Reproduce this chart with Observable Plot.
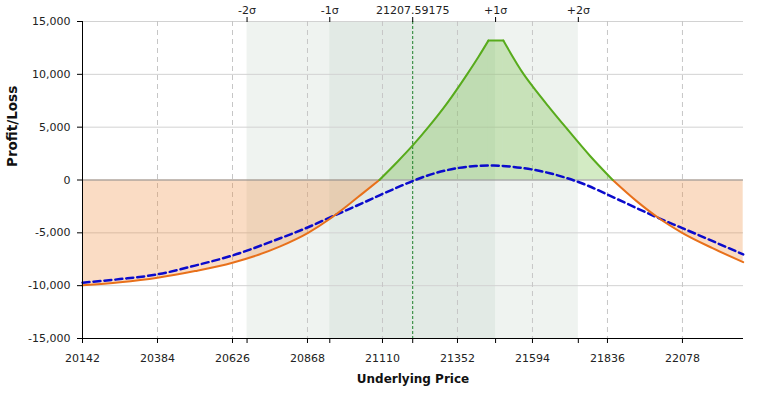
<!DOCTYPE html>
<html>
<head>
<meta charset="utf-8">
<script src="https://cdn.jsdelivr.net/npm/d3@7"></script>
<script src="https://cdn.jsdelivr.net/npm/@observablehq/plot@0.6"></script>
<style>
  html, body { margin: 0; padding: 0; background: #fff; }
  svg { display: block; }
</style>
</head>
<body>
<div id="chart"></div>
<script>
// ---- data ----
const xDomain = [20142, 22275];
const yDomain = [-15000, 15000];
const xTicks = [20142, 20384, 20626, 20868, 21110, 21352, 21594, 21836, 22078];
const yTicks = [-15000, -10000, -5000, 0, 5000, 10000, 15000];
const sigmaValues = [20673, 20940, 21207.59175, 21475, 21742];
const sigmaLabels = ["-2σ", "-1σ", "21207.59175", "+1σ", "+2σ"];

// P/L at expiration
const expiryX  = [20142, 20263, 20384, 20505, 20626, 20780, 20870, 20943, 20997, 21050, 21100,
                  21160, 21207, 21258, 21320, 21383, 21420, 21452,
                  21500, 21566, 21594, 21650, 21701, 21780, 21853,
                  21930, 22001, 22077, 22175, 22274];
const expiryPL = [-9970, -9680, -9250, -8620, -7830, -6280, -5000, -3620, -2420, -1170, 0,
                  1780, 3250, 5000, 7325, 10000, 11665, 13200,
                  13200, 10000, 8880, 6810, 5000, 2275, 0,
                  -2000, -3600, -5000, -6450, -7770];
// breakpoints of the expiration line (zero crossings and plateau edges)
const expiryBreaks = [21100, 21452, 21500, 21853];

// P/L today (T+0)
const todayX  = [20142, 20263, 20384, 20505, 20626, 20780, 20870, 20953, 21050, 21104, 21160, 21207,
                 21280, 21353, 21410, 21469, 21530, 21594, 21650, 21704, 21770, 21836,
                 22001, 22078, 22274];
const todayPL = [-9720, -9380, -8930, -8100, -7140, -5510, -4470, -3380, -2130, -1400, -680, -100,
                 650, 1130, 1320, 1370, 1250, 990, 640, 190, -500, -1380,
                 -3600, -4560, -7040];

// ---- build tables ----
const expiry = expiryX.map((x, i) => ({x, y: expiryPL[i]}));
const today = todayX.map((x, i) => ({x, y: todayPL[i]}));
const segs = [];
for (let k = 0; k <= expiryBreaks.length; k++) {
  const lo = k === 0 ? -Infinity : expiryBreaks[k - 1];
  const hi = k === expiryBreaks.length ? Infinity : expiryBreaks[k];
  const pts = expiry.filter(d => d.x >= lo && d.x <= hi);
  const pos = d3.mean(pts, d => d.y) >= 0;
  pts.forEach(d => segs.push({x: d.x, y: d.y, seg: k, pos}));
}
const posRows = segs.filter(d => d.pos);
const negRows = segs.filter(d => !d.pos);
const bands = [
  {x1: sigmaValues[0], x2: sigmaValues[4], level: "2"},
  {x1: sigmaValues[1], x2: sigmaValues[3], level: "1"}
];

const GREEN = "#58ab1c", ORANGE = "#e8701a", BLUE = "#0b0bcc";
const fmtY = d => d.toLocaleString("en-US");

const chart = Plot.plot({
  width: 767,
  height: 393,
  marginLeft: 82,
  marginRight: 24,
  marginTop: 21,
  marginBottom: 55,
  style: {fontFamily: "'DejaVu Sans', Verdana, sans-serif", fontSize: "11px", color: "#222", background: "#fff"},
  x: {domain: xDomain},
  y: {domain: yDomain},
  marks: [
    Plot.rect(bands, {x1: "x1", x2: "x2", y1: yDomain[0], y2: yDomain[1],
      fill: d => d.level === "2" ? "#eff3f0" : "#e2eae5"}),
    Plot.ruleY(yTicks.filter(d => d !== 0), {stroke: "#d2d2d2", strokeWidth: 1}),
    Plot.ruleX(xTicks.slice(1), {stroke: "#c6c6c6", strokeDasharray: "5,4", strokeWidth: 1}),
    Plot.areaY(negRows, {x: "x", y1: 0, y2: "y", z: "seg", fill: "rgb(240,140,60)", fillOpacity: 0.3, curve: "monotone-x"}),
    Plot.areaY(posRows, {x: "x", y1: 0, y2: "y", z: "seg", fill: "rgb(110,190,60)", fillOpacity: 0.3, curve: "monotone-x"}),
    Plot.ruleY([0], {stroke: "#8a8a8a", strokeWidth: 1}),
    Plot.ruleX([sigmaValues[2]], {stroke: "#1f7f2a", strokeDasharray: "3,2", strokeWidth: 1}),
    Plot.line(today, {x: "x", y: "y", stroke: BLUE, strokeWidth: 2.5, strokeDasharray: "7,4", curve: "monotone-x"}),
    Plot.line(negRows, {x: "x", y: "y", z: "seg", stroke: ORANGE, strokeWidth: 2, curve: "monotone-x", strokeLinecap: "round"}),
    Plot.line(posRows, {x: "x", y: "y", z: "seg", stroke: GREEN, strokeWidth: 2, curve: "monotone-x", strokeLinecap: "round", strokeLinejoin: "round"}),
    // axes
    Plot.ruleX([xDomain[0]], {stroke: "#000", strokeWidth: 1}),
    Plot.ruleY([yDomain[0]], {stroke: "#000", strokeWidth: 1}),
    Plot.axisY({ticks: yTicks, tickFormat: fmtY, tickSize: 5, tickPadding: 7, label: null, stroke: "#000"}),
    Plot.axisX({anchor: "bottom", ticks: xTicks, tickFormat: d => String(d), tickSize: 5, tickPadding: 11, label: null, stroke: "#000"}),
    Plot.axisX({anchor: "bottom", ticks: sigmaValues, tickFormat: () => "", tickSize: 5, label: null, stroke: "#000"}),
    Plot.axisX({anchor: "top", ticks: sigmaValues, tickFormat: d => sigmaLabels[sigmaValues.indexOf(d)], tickSize: 5, tickPadding: 3, label: null, stroke: "#000"}),
    Plot.text(["Underlying Price"], {frameAnchor: "bottom", dy: 44, fontWeight: "bold", fontSize: 12, fill: "#111"}),
    Plot.text(["Profit/Loss"], {frameAnchor: "left", dx: -70, dy: -13, rotate: -90, fontWeight: "bold", fontSize: 13.5, fill: "#111"})
  ]
});
document.getElementById("chart").appendChild(chart);
</script>
</body>
</html>
